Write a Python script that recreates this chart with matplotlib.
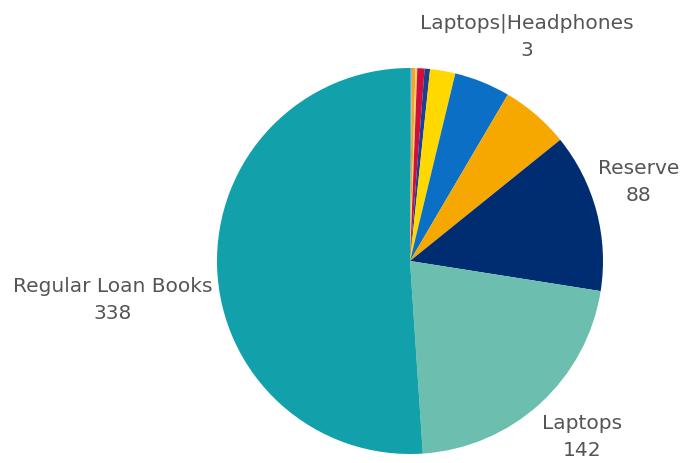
import matplotlib.pyplot as plt

# Slices, clockwise from 12 o'clock
categories = ["Other A", "Other B", "Other C", "Other D", "Laptops|Headphones",
              "Other E", "Other F", "Other G", "Reserve", "Laptops", "Regular Loan Books"]
counts = [1, 2, 1, 4, 3, 14, 31, 38, 88, 142, 338]
colors = ["#4fb3d9", "#f9a12b", "#f5d45c", "#d0103a", "#1c3f94", "#ffd800",
          "#0b6fc6", "#f7a800", "#002d72", "#6cbfae", "#12a1aa"]

# Which slices get a text label
labelled = ["Laptops|Headphones", "Reserve", "Laptops", "Regular Loan Books"]

W, H = 687, 464
CX, CY, R = 410, 262, 193

fig = plt.figure(figsize=(W / 100, H / 100), dpi=100)
ax = fig.add_axes([0, 0, 1, 1])
ax.pie(counts, colors=colors, startangle=90, counterclock=False, radius=1,
       wedgeprops=dict(linewidth=0))
ax.set_xlim(-CX / R, (W - CX) / R)
ax.set_ylim(-(H - CY) / R, CY / R)
ax.set_aspect("equal")
ax.axis("off")


def to_data(px, py):
    return (px - CX) / R, (CY - py) / R


# label anchor points in pixel space
label_pos = {
    "Laptops|Headphones": (527, 37),
    "Reserve": (639, 182),
    "Laptops": (582, 437),
    "Regular Loan Books": (113, 300),
}

for name in labelled:
    value = counts[categories.index(name)]
    x, y = to_data(*label_pos[name])
    ax.text(x, y, f"{name}\n{value}", ha="center", va="center", fontsize=14.5,
            color="#555555", linespacing=1.55, family="DejaVu Sans")

fig.savefig("out.png", dpi=100)
